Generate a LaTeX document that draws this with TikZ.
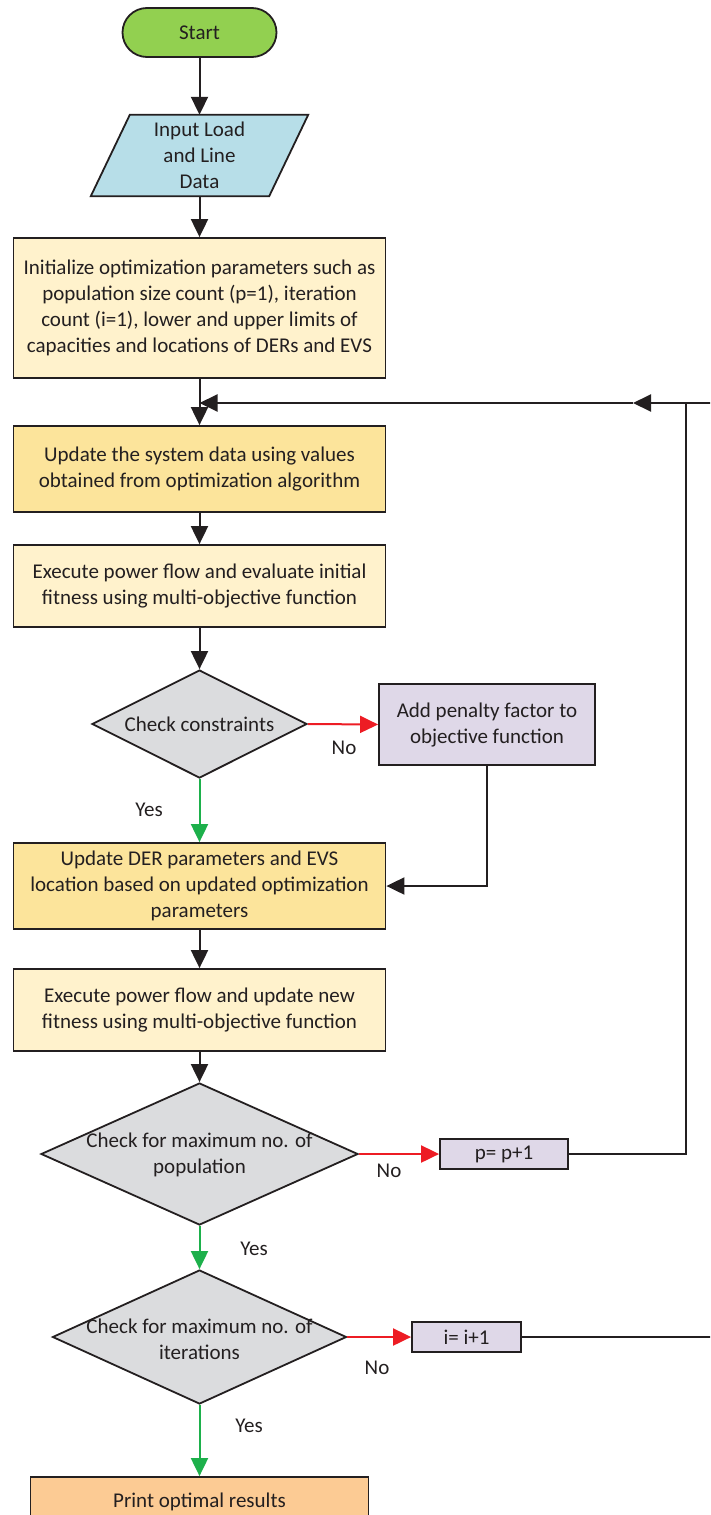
\documentclass[tikz,border=0pt]{standalone}
\usepackage{fontspec}
\setmainfont{Carlito}
\usetikzlibrary{arrows.meta,shapes.geometric,calc,backgrounds}
\definecolor{ink}{HTML}{231F20}
\definecolor{startgreen}{HTML}{92D050}
\definecolor{inblue}{HTML}{B7DEE8}
\definecolor{paleyellow}{HTML}{FFF2CC}
\definecolor{gold}{HTML}{FCE49B}
\definecolor{lilac}{HTML}{DFD8E8}
\definecolor{decgray}{HTML}{DBDCDE}
\definecolor{peach}{HTML}{FCCB94}
\definecolor{nored}{HTML}{ED1C24}
\definecolor{yesgreen}{HTML}{1DB04B}
\begin{document}
\begin{tikzpicture}[x=1pt,y=-1pt,
  every node/.style={font=\fontsize{21}{26}\selectfont, text=ink},
  box/.style={draw=ink, line width=1.8pt, rectangle, inner sep=0pt, align=center},
  decision/.style={draw=ink, line width=1.8pt, diamond, inner sep=0pt, fill=decgray},
  flow/.style={draw=ink, line width=2pt, -{Triangle[length=18pt,width=17pt]}},
  noflow/.style={flow, draw=nored},
  yesflow/.style={flow, draw=yesgreen},
  link/.style={draw=ink, line width=2pt},
  lbl/.style={inner sep=0pt}
]
\useasboundingbox (0,0) rectangle (710,1515);
\clip (0,0) rectangle (710,1515);

% process chain
\node[box, fill=startgreen, rounded corners=24.5pt, minimum width=154pt, minimum height=49pt] (start) at (199.5,32.5) {Start};
\node[inner sep=0pt, minimum width=139pt, minimum height=81pt, align=center] (input) at (199.5,155.5) {Input Load\\and Line\\Data};
\begin{pgfonlayer}{background}
  \filldraw[fill=inblue, draw=ink, line width=1.8pt, line join=miter]
    (input.north west) -- ($(input.north east)+(39,0)$) -- (input.south east) -- ($(input.south west)+(-39,0)$) -- cycle;
\end{pgfonlayer}
\node[box, fill=paleyellow, minimum width=372pt, minimum height=140pt] (init) at (199.5,308)
  {Initialize optimization parameters such as\\population size count (p=1), iteration\\count (i=1), lower and upper limits of\\capacities and locations of DERs and EVS};
\node[box, fill=gold, minimum width=372pt, minimum height=86pt] (update) at (199.5,469)
  {Update the system data using values\\obtained from optimization algorithm};
\node[box, fill=paleyellow, minimum width=372pt, minimum height=82pt] (exec1) at (199.5,586)
  {Execute power flow and evaluate initial\\fitness using multi-objective function};
\node[decision, minimum width=215pt, minimum height=108pt] (chk) at (199.5,724) {};
\node[lbl] (chktxt) at (199.5,724) {Check constraints};
\node[box, fill=lilac, minimum width=216pt, minimum height=81pt] (penalty) at (487,724.5)
  {Add penalty factor to\\objective function};
\node[box, fill=gold, minimum width=372pt, minimum height=86pt] (update2) at (199.5,886)
  {Update DER parameters and EVS\\location based on updated optimization\\parameters};
\node[box, fill=paleyellow, minimum width=372pt, minimum height=82pt] (exec2) at (199.5,1010)
  {Execute power flow and update new\\fitness using multi-objective function};
\node[decision, minimum width=317pt, minimum height=142pt] (pop) at (199.5,1154) {};
\node[lbl, align=center] (poptxt) at (199.5,1155) {Check for maximum no. of\\population};
\node[box, fill=lilac, minimum width=128pt, minimum height=30pt] (pinc) at (504,1154) {p= p+1};
\node[decision, minimum width=294pt, minimum height=134pt] (iter) at (199.5,1337) {};
\node[lbl, align=center] (itertxt) at (199.5,1339) {Check for maximum no. of\\iterations};
\node[box, fill=lilac, minimum width=109pt, minimum height=30pt] (iinc) at (466.5,1337) {i= i+1};
\node[box, fill=peach, minimum width=338pt, minimum height=50pt] (print) at (199.5,1502) {Print optimal results};

% branch labels
\node[lbl] (no1) at (344,748) {No};
\node[lbl] (yes1) at (149,810) {Yes};
\node[lbl] (no2) at (389,1171) {No};
\node[lbl] (yes2) at (254,1249) {Yes};
\node[lbl] (no3) at (377,1368) {No};
\node[lbl] (yes3) at (249,1426) {Yes};

% loop-back points
\coordinate (jn) at (199.5,403);
\coordinate (midhead) at (633,403);
\coordinate (prise) at (686,403);
\coordinate (irise) at (730,403);

% connectors
\draw[flow] (start.south) -- (input.north);
\draw[flow] (input.south) -- (init.north);
\draw[link] (init.south) -- (jn);
\draw[flow] (jn) -- (update.north);
\draw[flow] (update.south) -- (exec1.north);
\draw[flow] (exec1.south) -- (chk.north);
\draw[noflow] (chk.east) -- (penalty.west);
\draw[yesflow] (chk.south) -- (update2.north);
\draw[flow] (penalty.south) |- (update2.east);
\draw[flow] (update2.south) -- (exec2.north);
\draw[flow] (exec2.south) -- (pop.north);
\draw[noflow] (pop.east) -- (pinc.west);
\draw[yesflow] (pop.south) -- (iter.north);
\draw[noflow] (iter.east) -- (iinc.west);
\draw[yesflow] (iter.south) -- (print.north);
\draw[link] (pinc.east) -| (prise);
\draw[flow] (iinc.east) -| (irise) -- (midhead);
\draw[flow] (midhead) -- (jn);
\end{tikzpicture}
\end{document}
